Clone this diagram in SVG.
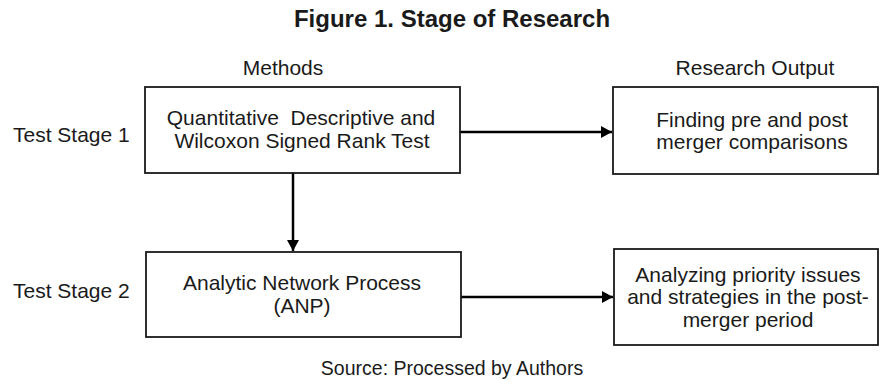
<svg xmlns="http://www.w3.org/2000/svg" width="880" height="387" viewBox="0 0 880 387">
<defs>
<style>
text{font-family:"Liberation Sans",Arial,sans-serif;fill:#1a1a1a;font-size:21px;}
.t{text-anchor:middle;}
.title{font-weight:bold;font-size:24px;}
.box{fill:#fff;stroke:#1a1a1a;stroke-width:1.8;}
.con{stroke:#000;stroke-width:2.5;fill:none;}
</style>
<marker id="ah" markerWidth="12" markerHeight="12" refX="11" refY="6" orient="auto" markerUnits="userSpaceOnUse">
<path d="M0,0 L11,6 L0,12 Z" fill="#000"/>
</marker>
</defs>
<rect width="880" height="387" fill="#fff"/>
<text class="t title" x="452" y="27">Figure 1. Stage of Research</text>
<text class="t" x="283" y="75">Methods</text>
<text class="t" x="755" y="75">Research Output</text>
<text x="13" y="142">Test Stage 1</text>
<text x="13" y="298">Test Stage 2</text>
<g id="connectors">
<line class="con" x1="460" y1="132" x2="612" y2="132" marker-end="url(#ah)"/>
<line class="con" x1="293" y1="173" x2="293" y2="251" marker-end="url(#ah)"/>
<line class="con" x1="461" y1="297" x2="613" y2="297" marker-end="url(#ah)"/>
</g>
<g id="n1">
<rect class="box" x="145" y="87" width="315" height="86"/>
<text class="t" x="301" y="125" xml:space="preserve">Quantitative  Descriptive and</text>
<text class="t" x="302" y="148">Wilcoxon Signed Rank Test</text>
</g>
<g id="n2">
<rect class="box" x="146" y="252" width="315" height="85"/>
<text class="t" x="302" y="290">Analytic Network Process</text>
<text class="t" x="302" y="313">(ANP)</text>
</g>
<g id="n3">
<rect class="box" x="613" y="87" width="265" height="87"/>
<text class="t" x="752" y="127">Finding pre and post</text>
<text class="t" x="752" y="149">merger comparisons</text>
</g>
<g id="n4">
<rect class="box" x="614" y="249" width="264" height="96"/>
<text class="t" x="748" y="282">Analyzing priority issues</text>
<text class="t" x="748" y="304">and strategies in the post-</text>
<text class="t" x="748" y="327">merger period</text>
</g>
<text class="t" x="452" y="375" style="font-size:19.5px">Source: Processed by Authors</text>
</svg>
